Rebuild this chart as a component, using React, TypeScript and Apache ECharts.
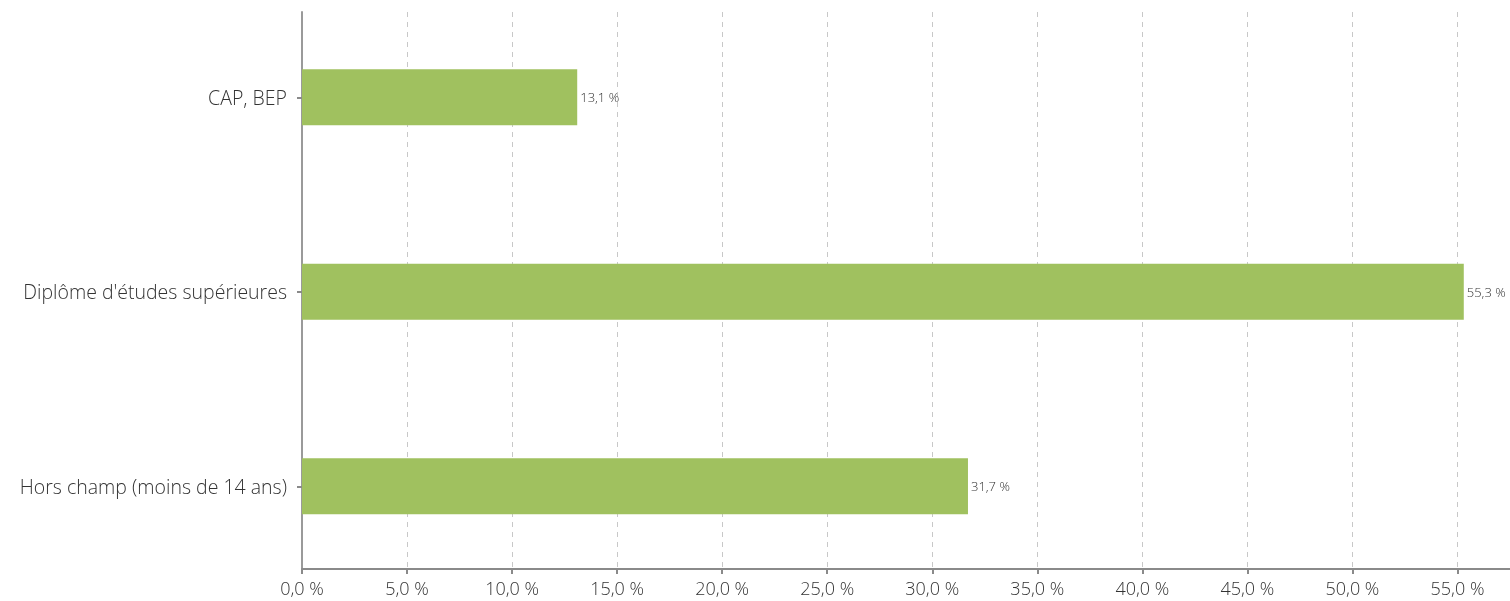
import React, { useEffect, useRef } from "react";
import * as echarts from "echarts";

const categories = ["CAP, BEP", "Diplôme d'études supérieures", "Hors champ (moins de 14 ans)"];
const values = [13.1, 55.3, 31.7];
const xMin = 0;
const xMax = 57.5;
const xInterval = 5;

const FONT = "'Open Sans', 'Noto Sans', sans-serif";
const fmt = (v: number, d: number) => v.toFixed(d).replace(".", ",") + " %";

export default function App() {
  const ref = useRef<HTMLDivElement>(null);
  useEffect(() => {
    if (!ref.current) return;
    const chart = echarts.init(ref.current, null, { renderer: "svg" });
    chart.setOption({
      animation: false,
      grid: [
        { left: 302, right: 0, top: 12, bottom: 32 },
        { left: 302, right: 0, top: 0, bottom: 17.5 },
      ],
      xAxis: [
        {
          gridIndex: 0,
          type: "value",
          min: xMin,
          max: xMax,
          interval: xInterval,
          axisLine: { show: true, lineStyle: { color: "#8a8a8a", width: 2 } },
          axisTick: { show: true, length: 5, lineStyle: { color: "#8a8a8a", width: 2 } },
          axisLabel: {
            showMaxLabel: false,
            margin: 10,
            fontSize: 18,
            fontFamily: FONT,
            fontWeight: 300,
            color: "#333",
            formatter: (v: number) => fmt(v, 1),
          },
          splitLine: { show: true, lineStyle: { color: "#c8c8c8", type: [5, 5], width: 1 } },
        },
        {
          gridIndex: 1,
          type: "value",
          min: xMin,
          max: xMax,
          show: false,
          splitLine: { show: false },
        },
      ],
      yAxis: [
        {
          gridIndex: 0,
          type: "value",
          min: 0,
          max: 1,
          axisLine: { show: true, lineStyle: { color: "#9a9a9a", width: 2 } },
          axisTick: { show: false },
          axisLabel: { show: false },
          splitLine: { show: false },
        },
        {
          gridIndex: 1,
          type: "category",
          inverse: true,
          data: categories,
          axisLine: { show: false },
          axisTick: { show: true, alignWithLabel: true, length: 5, lineStyle: { color: "#8a8a8a", width: 2 } },
          axisLabel: {
            margin: 15,
            fontSize: 19.5,
            fontFamily: FONT,
            fontWeight: 300,
            color: "#333",
          },
          splitLine: { show: false },
        },
      ],
      series: [
        {
          type: "bar",
          xAxisIndex: 1,
          yAxisIndex: 1,
          data: values,
          barWidth: 56,
          itemStyle: { color: "#a0c15f" },
          label: {
            show: true,
            position: "right",
            distance: 3,
            fontSize: 13,
            fontFamily: FONT,
            fontWeight: 300,
            color: "#333",
            formatter: (p: any) => fmt(p.value, 1),
          },
        },
      ],
    });
    return () => chart.dispose();
  }, []);
  return <div ref={ref} style={{ position: "fixed", left: 0, top: 0, width: 1510, height: 601 }} />;
}
